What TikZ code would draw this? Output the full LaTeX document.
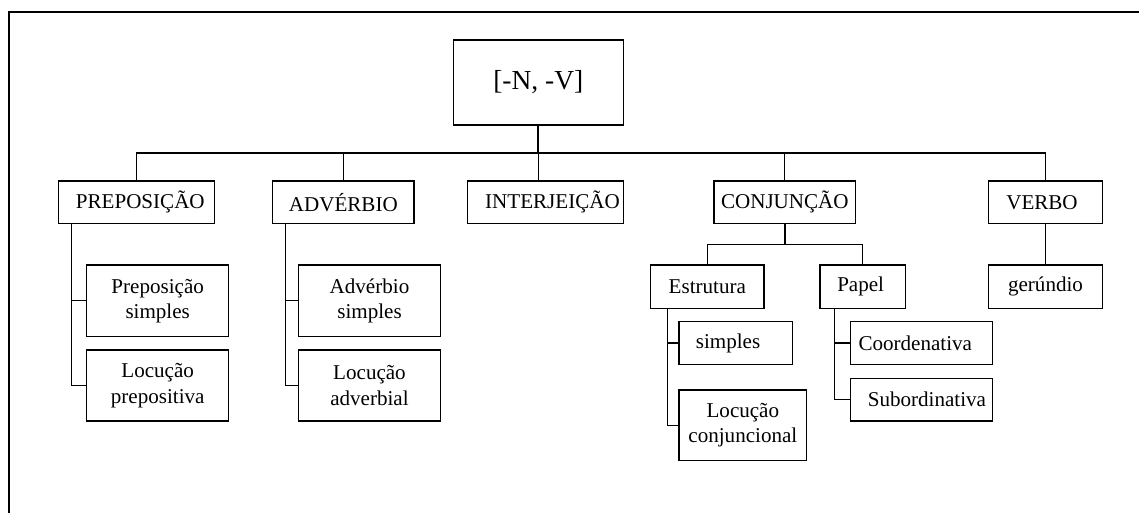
\documentclass[tikz,border=0pt]{standalone}
\usepackage{fontspec}
\setmainfont{Liberation Serif}
\begin{document}
\begin{tikzpicture}[x=0.75pt,y=-0.75pt,
  ln/.style={line width=0.9pt},
  bx/.style 2 args={draw,line width=0.9pt,inner sep=0pt,align=center,
    minimum width=#1*0.75pt,minimum height=#2*0.75pt,
    font=\fontsize{15.8}{19}\selectfont},
  stem/.style={line width=1.6pt}]
\useasboundingbox (0,0) rectangle (1139,513);
% frame
\draw[ln] (1139,12) -- (9,12) -- (9,513);
% root
\node[bx={170}{85},font=\fontsize{20.6}{24}\selectfont] (top) at (538.3,82.5) {[-N, -V]};
% level 1
\node[bx={155.6}{42.3}] (prep) at (136.5,202.2) {\kern5.7pt PREPOSIÇÃO};
\node[bx={141.3}{42.3}] (adv) at (343.35,202.2) {ADVÉRBIO};
\node[bx={155.6}{42.3}] (interj) at (545.5,202.2) {\kern10.5pt INTERJEIÇÃO};
\node[bx={141.7}{42.3}] (conj) at (784.85,202.2) {CONJUNÇÃO};
\node[bx={113.6}{42.3}] (verbo) at (1045.5,202.2) {\kern-5.25pt VERBO};
\coordinate (bus) at (538.3,153);
\draw[ln] (prep.north) |- (verbo.north |- bus) -- (verbo.north);
\draw[ln] (adv.north) -- (adv.north |- bus);
\draw[ln] (conj.north) -- (conj.north |- bus);
\draw[stem] (top.south) -- (top.south |- bus);
\draw[ln] (top.south |- bus) -- (top.south |- interj.north);
% preposicao children
\node[bx={142}{71.7}] (ps) at (157.7,300.85) {Preposição\\simples};
\node[bx={142}{71}] (lp) at (157.7,385.5) {Locução\\prepositiva};
\draw[ln] ([xshift=10pt]prep.south west) |- (lp.west);
\draw[ln] ([xshift=10pt]prep.south west |- ps.west) -- (ps.west);
% adverbio children
\node[bx={142.4}{71.7}] (as) at (369.5,300.85) {Advérbio\\simples};
\node[bx={142.4}{71}] (la) at (369.5,385.5) {Locução\\adverbial};
\draw[ln] ([xshift=10pt]adv.south west) |- (la.west);
\draw[ln] ([xshift=10pt]adv.south west |- as.west) -- (as.west);
% conjuncao children
\node[bx={113.3}{43.3}] (estr) at (707.35,286.65) {Estrutura};
\node[bx={85.3}{43.3}] (papel) at (862.65,286.65) {\kern-3pt Papel};
\coordinate (cb) at (784.85,244.7);
\draw[ln] (estr.north) |- (papel.north |- cb) -- (papel.north);
\draw[line width=1.2pt] (conj.south) -- (conj.south |- cb);
% estrutura children
\node[bx={113.3}{42.6}] (cs) at (735.65,343) {\kern-11.4pt simples};
\node[bx={127.7}{70.7}] (lc) at (742.85,425.35) {Locução\\conjuncional};
\draw[ln] ([xshift=13pt]estr.south west) |- (lc.west);
\draw[ln] ([xshift=13pt]estr.south west |- cs.west) -- (cs.west);
% papel children
\node[bx={142}{42.6}] (coord) at (921.3,343) {\kern-9pt Coordenativa};
\node[bx={142}{42.7}] (sub) at (921.3,399.65) {\kern8.5pt Subordinativa};
\draw[ln] ([xshift=11.25pt]papel.south west) |- (sub.west);
\draw[ln] ([xshift=11.25pt]papel.south west |- coord.west) -- (coord.west);
% verbo child
\node[bx={113.6}{43.3}] (ger) at (1045.5,286.65) {gerúndio};
\draw[ln] (verbo.south) -- (ger.north);
\end{tikzpicture}
\end{document}
